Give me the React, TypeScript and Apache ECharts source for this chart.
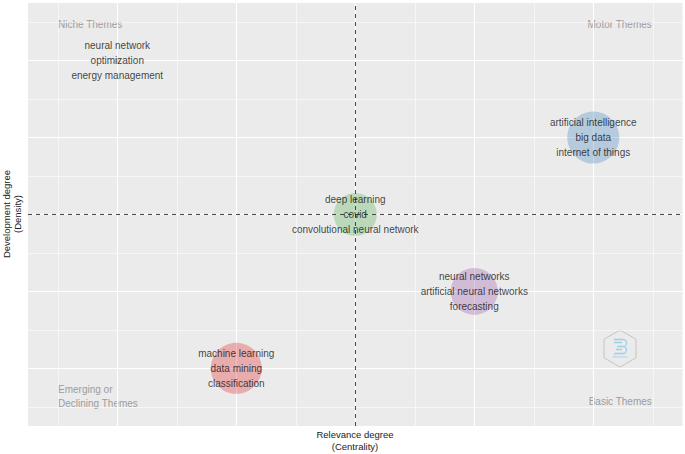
import React, { useEffect, useRef } from "react";
import * as echarts from "echarts";

// Thematic map data (rank centrality / rank density)
const clusterLabels: string[][] = [
  ["neural network", "optimization", "energy management"],
  ["machine learning", "data mining", "classification"],
  ["deep learning", "covid", "convolutional neural network"],
  ["neural networks", "artificial neural networks", "forecasting"],
  ["artificial intelligence", "big data", "internet of things"],
];
const centrality: number[] = [1, 2, 3, 4, 5];
const density: number[] = [5, 1, 3, 2, 4];
const bubbleDiameter: number[] = [6, 51, 43, 47, 52];
const clusterColors: string[] = ["#FF7F00", "#E41A1C", "#4DAF4A", "#984EA3", "#377EB8"];

const majorBreaks: number[] = [1, 2, 3, 4, 5];
const minorBreaks: number[] = [0.5, 1.5, 2.5, 3.5, 4.5, 5.5];
const meanCentrality = 3;
const meanDensity = 3;

const quadrantNames = {
  niche: "Niche Themes",
  motor: "Motor Themes",
  emerging: "Emerging or\nDeclining Themes",
  basic: "Basic Themes",
};
const xTitle = "Relevance degree\n(Centrality)";
const yTitle = "Development degree\n(Density)";

const FONT = "'Liberation Sans', Arial, Helvetica, sans-serif";

echarts.graphic.registerShape(
  "biblioLogo",
  echarts.graphic.extendPath(
    "M0 0 H9 A3.5 3.5 0 0 1 9 7 H3 M3 7 H9 A3.5 3.5 0 0 1 9 14 H0 M0 3 H8 M2 10 H8",
    {}
  )
);

export default function App() {
  const ref = useRef<HTMLDivElement>(null);
  useEffect(() => {
    document.body.style.margin = "0";
    if (!ref.current) return;
    const chart = echarts.init(ref.current, undefined, { renderer: "svg" });

    const gridLines = (axis: "xAxis" | "yAxis") => [
      ...majorBreaks.map((v) => ({
        [axis]: v,
        lineStyle: { color: "#ffffff", width: 1.1, type: "solid" },
      })),
      ...minorBreaks.map((v) => ({
        [axis]: v,
        lineStyle: { color: "#ffffff", width: 0.55, type: "solid" },
      })),
    ];

    const points = centrality.map((c, i) => ({
      value: [c, density[i]],
      symbolSize: bubbleDiameter[i],
      itemStyle: { color: clusterColors[i], opacity: 0.3 },
      label: { formatter: clusterLabels[i].join("\n") },
    }));

    const quadStyle = { fill: "#9c9c9c", font: `10px ${FONT}` };

    chart.setOption({
      animation: false,
      grid: {
        left: 28,
        top: 3,
        right: 2.5,
        bottom: 28,
        show: true,
        backgroundColor: "#EBEBEB",
        borderWidth: 0,
      },
      xAxis: {
        type: "value",
        min: 0.25,
        max: 5.75,
        axisLine: { show: false },
        axisTick: { show: false },
        axisLabel: { show: false },
        splitLine: { show: false },
      },
      yAxis: {
        type: "value",
        min: 0.25,
        max: 5.75,
        axisLine: { show: false },
        axisTick: { show: false },
        axisLabel: { show: false },
        splitLine: { show: false },
      },
      series: [
        {
          type: "line",
          data: [],
          z: 1,
          silent: true,
          markLine: {
            z: 1,
            silent: true,
            symbol: ["none", "none"],
            label: { show: false },
            data: [...gridLines("xAxis"), ...gridLines("yAxis")],
          },
        },
        {
          type: "scatter",
          z: 2,
          data: points.map((p) => ({ ...p, label: { show: false } })),
        },
        {
          type: "line",
          data: [],
          z: 3,
          silent: true,
          markLine: {
            z: 3,
            silent: true,
            symbol: ["none", "none"],
            label: { show: false },
            lineStyle: { color: "#333333", width: 0.9, type: [4, 4] },
            data: [{ xAxis: meanCentrality }, { yAxis: meanDensity }],
          },
        },
        {
          type: "scatter",
          z: 10,
          symbolSize: 0,
          data: points.map((p) => ({ value: p.value, label: p.label })),
          label: {
            show: true,
            position: "inside",
            color: "#111111",
            fontSize: 10,
            fontFamily: FONT,
            lineHeight: 15,
            align: "center",
            verticalAlign: "middle",
          },
        },
      ],
      graphic: [
        { type: "text", left: 58, top: 19, style: { ...quadStyle, text: quadrantNames.niche } },
        {
          type: "text",
          right: 33,
          top: 19,
          style: { ...quadStyle, text: quadrantNames.motor },
        },
        {
          type: "text",
          left: 58,
          top: 382,
          style: { ...quadStyle, text: quadrantNames.emerging, lineHeight: 14 },
        },
        {
          type: "text",
          right: 33,
          top: 396,
          style: { ...quadStyle, text: quadrantNames.basic },
        },
        {
          type: "text",
          x: 355,
          y: 429,
          style: {
            text: xTitle,
            font: `9.5px ${FONT}`,
            fill: "#222222",
            align: "center",
            verticalAlign: "top",
            lineHeight: 11.5,
          },
        },
        {
          type: "text",
          x: 12,
          y: 214,
          rotation: Math.PI / 2,
          style: {
            text: yTitle,
            font: `9.5px ${FONT}`,
            fill: "#222222",
            align: "center",
            verticalAlign: "middle",
            lineHeight: 11.5,
          },
        },
        {
          type: "group",
          x: 620,
          y: 348.5,
          silent: true,
          children: [
            {
              type: "polygon",
              shape: {
                points: [
                  [0, -18.5],
                  [16, -9.25],
                  [16, 9.25],
                  [0, 18.5],
                  [-16, 9.25],
                  [-16, -9.25],
                ],
              },
              style: { fill: "none", stroke: "#c4c4c4", lineWidth: 1 },
            },
            {
              type: "biblioLogo",
              x: -6,
              y: -9,
              style: { fill: "none", stroke: "#9fd0ea", lineWidth: 1.3 },
            },
            {
              type: "text",
              x: 0,
              y: 8,
              style: {
                text: "bibliometrix",
                font: `3px ${FONT}`,
                fill: "#9fd0ea",
                align: "center",
                verticalAlign: "middle",
              },
            },
          ],
        },
      ],
    });
    return () => chart.dispose();
  }, []);
  return <div ref={ref} style={{ width: 685, height: 454 }} />;
}
